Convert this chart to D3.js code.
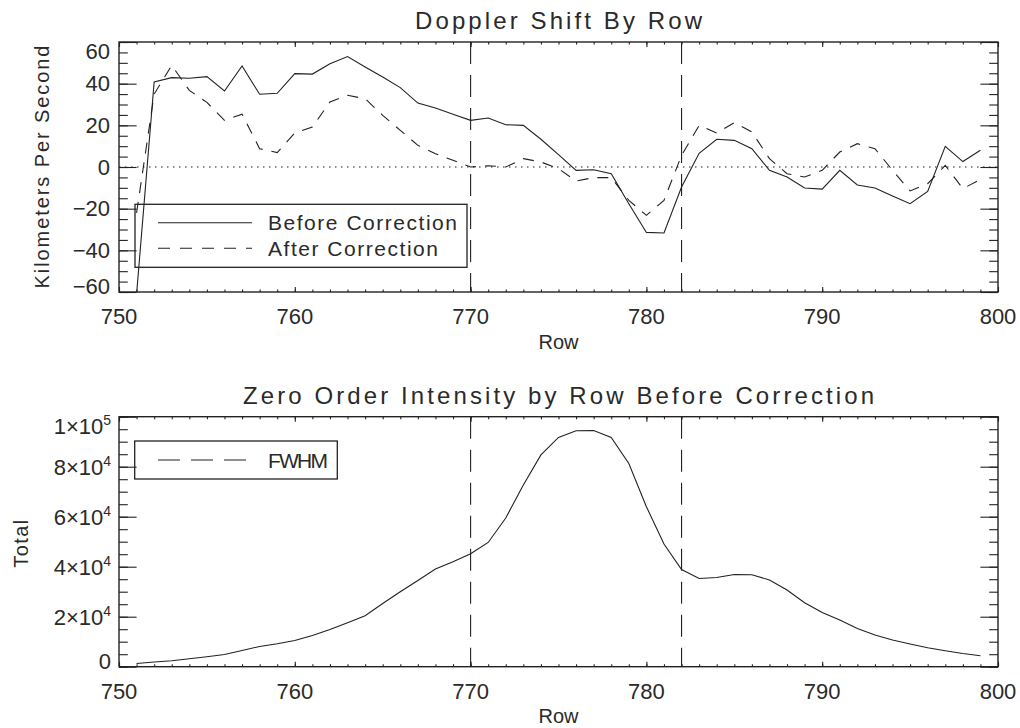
<!DOCTYPE html>
<html>
<head>
<meta charset="utf-8">
<script src="https://cdn.jsdelivr.net/npm/d3@7"></script>
<style>
  html, body { margin: 0; padding: 0; background: #fff; }
  svg { display: block; }
  text { font-family: "Liberation Sans", Arial, sans-serif; fill: #2a2a2a; }
</style>
</head>
<body>
<svg id="chart" width="1020" height="728"></svg>
<script>
// ---------------- data ----------------
const rows = [751,752,753,754,755,756,757,758,759,760,761,762,763,764,765,766,767,768,769,770,
              771,772,773,774,775,776,777,778,779,780,781,782,783,784,785,786,787,788,789,790,
              791,792,793,794,795,796,797,798,799];
const beforeCorrection = [-61,40.8,42.9,42.6,43.4,36.5,48.5,34.9,35.4,44.8,44.6,49.6,53.0,48.0,43.2,38.1,30.7,28.3,25.3,22.4,
              23.5,20.3,20.0,13.3,5.9,-1.6,-1.3,-3.2,-17.6,-31.4,-31.7,-9.6,6.6,13.3,12.8,8.8,-1.6,-4.8,-10.1,-10.6,
              -1.6,-8.6,-10.1,-13.9,-17.6,-11.7,9.9,2.6,8.0];
const afterCorrection = [-22,35,48.8,36.8,31,22.4,25.3,8.8,6.9,16.3,19.2,31.2,34.4,32.8,24.8,17.6,10.4,6.4,3.2,0,
              0.6,0,4,2.4,-0.8,-6.7,-5.1,-5.1,-16,-23.2,-16,5.6,20,16.3,21.3,16.8,4,-3.2,-4.8,-1.6,
              7.2,11.2,8.8,-1.6,-11.5,-8,0.8,-10.4,-6];
const intensity = [1300,1900,2400,3200,4000,4900,6500,8100,9200,10500,12500,14900,17600,20400,25300,30000,34500,39100,42000,45200,
              49700,59500,72700,84700,91700,94400,94500,91700,81300,64000,49100,38900,35300,35700,36900,36800,34700,30700,25600,21700,
              18700,15300,12700,10700,9100,7600,6400,5300,4400];
const fwhmRows = [770, 782];
const xTicks = [750,760,770,780,790,800];
const dopplerTicks = [-60,-40,-20,0,20,40,60];
const intensityTicks = [0,20000,40000,60000,80000,100000];
const intensityTickLabels = [["0",""],["2×10","4"],["4×10","4"],["6×10","4"],["8×10","4"],["1×10","5"]];
const legendTop = ["Before Correction", "After Correction"];
const legendBottom = ["FWHM"];
const titles = ["Doppler Shift By Row", "Zero Order Intensity by Row Before Correction"];

// ---------------- layout ----------------
const svg = d3.select("#chart");
const INK = "#222";
const L = 119, R = 998;
const P1 = {top: 42, bottom: 292};
const P2 = {top: 416.7, bottom: 666.7};

const x = d3.scaleLinear().domain([750, 800]).range([L, R]);
const y1 = d3.scaleLinear().domain([-60, 60]).range([P1.bottom, P1.top]);
const y2 = d3.scaleLinear().domain([0, 100000]).range([P2.bottom, P2.top]);

svg.append("rect").attr("width",1020).attr("height",728).attr("fill","#fff");

const defs = svg.append("defs");
[["clip1",P1],["clip2",P2]].forEach(([id,P]) => {
  defs.append("clipPath").attr("id", id).append("rect")
    .attr("x", L).attr("y", P.top).attr("width", R - L).attr("height", P.bottom - P.top);
});

function drawAxes(P, y, majorY, minorY) {
  const g = svg.append("g").attr("color", INK);
  const xMinor = d3.range(750, 801, 1);
  const axes = [
    [d3.axisBottom(x).tickValues(xMinor).tickSize(-2.5), `translate(0,${P.bottom})`],
    [d3.axisBottom(x).tickValues(xTicks).tickSize(-5), `translate(0,${P.bottom})`],
    [d3.axisTop(x).tickValues(xMinor).tickSize(-2.5), `translate(0,${P.top})`],
    [d3.axisTop(x).tickValues(xTicks).tickSize(-5), `translate(0,${P.top})`],
    [d3.axisLeft(y).tickValues(minorY).tickSize(-8.8), `translate(${L},0)`],
    [d3.axisLeft(y).tickValues(majorY).tickSize(-17.6), `translate(${L},0)`],
    [d3.axisRight(y).tickValues(minorY).tickSize(-8.8), `translate(${R},0)`],
    [d3.axisRight(y).tickValues(majorY).tickSize(-17.6), `translate(${R},0)`]
  ];
  axes.forEach(([ax, tr]) => {
    const a = g.append("g").attr("transform", tr).call(ax.tickFormat(""));
    a.select(".domain").remove();
    a.selectAll("line").attr("stroke-width", 1.1);
  });
  g.append("rect").attr("x", L).attr("y", P.top).attr("width", R - L).attr("height", P.bottom - P.top)
    .attr("fill", "none").attr("stroke", INK).attr("stroke-width", 1.4);
  g.selectAll("text.xl").data(xTicks).join("text")
    .attr("x", d => x(d)).attr("y", P.bottom + 32).attr("text-anchor", "middle")
    .attr("font-size", 22).text(d => d);
}

function yLabelPos(y, v, P) {
  let c = y(v);
  if (Math.abs(c - P.top) < 1) c += 9.5;
  if (Math.abs(c - P.bottom) < 1) c -= 5.5;
  return c + 7.8;
}

// ---------------- top panel ----------------
drawAxes(P1, y1, dopplerTicks, d3.range(-60, 61, 5));
svg.append("g").selectAll("text").data(dopplerTicks).join("text")
  .attr("x", 110).attr("y", d => yLabelPos(y1, d, P1)).attr("text-anchor", "end")
  .attr("font-size", 22).text(d => d < 0 ? "\u2212" + Math.abs(d) : d);

svg.append("text").attr("x", (L + R) / 2).attr("y", 29.3).attr("text-anchor", "middle")
  .attr("font-size", 24).attr("textLength", 287).attr("lengthAdjust", "spacing").text(titles[0]);
svg.append("text").attr("x", (L + R) / 2).attr("y", 349).attr("text-anchor", "middle")
  .attr("font-size", 20).text("Row");
svg.append("text").attr("transform", `translate(48.5,${y1(0)}) rotate(-90)`).attr("text-anchor", "middle")
  .attr("font-size", 20).attr("textLength", 243).attr("lengthAdjust", "spacing").text("Kilometers Per Second");

const plot1 = svg.append("g").attr("clip-path", "url(#clip1)");
plot1.append("line").attr("x1", L).attr("x2", R).attr("y1", y1(0)).attr("y2", y1(0))
  .attr("stroke", INK).attr("stroke-width", 1.1).attr("stroke-dasharray", "1.5,4.5");
fwhmRows.forEach(r => {
  plot1.append("line").attr("x1", x(r)).attr("x2", x(r)).attr("y1", P1.top).attr("y2", P1.bottom)
    .attr("stroke", INK).attr("stroke-width", 1.1).attr("stroke-dasharray", "22,11");
});
const line1 = d3.line().x((d, i) => x(rows[i])).y(d => y1(d));
plot1.append("path").datum(beforeCorrection).attr("d", line1)
  .attr("fill", "none").attr("stroke", INK).attr("stroke-width", 1.1);
plot1.append("path").datum(afterCorrection).attr("d", line1)
  .attr("fill", "none").attr("stroke", INK).attr("stroke-width", 1.1).attr("stroke-dasharray", "11,9");

const lg1 = svg.append("g");
lg1.append("rect").attr("x", 135).attr("y", 204.3).attr("width", 332).attr("height", 63)
  .attr("fill", "none").attr("stroke", INK).attr("stroke-width", 1.3);
[[222.7, null], [248.3, "12,10"]].forEach(([yy, dash], i) => {
  lg1.append("line").attr("x1", 158).attr("x2", 252).attr("y1", yy).attr("y2", yy)
    .attr("stroke", INK).attr("stroke-width", 1.1).attr("stroke-dasharray", dash);
  lg1.append("text").attr("x", 268).attr("y", yy + 7.5).attr("font-size", 21)
    .attr("textLength", i === 0 ? 189 : 170).attr("lengthAdjust", "spacing").text(legendTop[i]);
});

// ---------------- bottom panel ----------------
drawAxes(P2, y2, intensityTicks, d3.range(0, 100001, 5000));
const yl2 = svg.append("g").selectAll("text").data(intensityTicks).join("text")
  .attr("x", 111).attr("y", d => yLabelPos(y2, d, P2)).attr("text-anchor", "end")
  .attr("font-size", 22);
yl2.append("tspan").text((d, i) => intensityTickLabels[i][0]);
yl2.append("tspan").attr("dy", -9).attr("font-size", 14).text((d, i) => intensityTickLabels[i][1]);

svg.append("text").attr("x", (L + R) / 2).attr("y", 404).attr("text-anchor", "middle")
  .attr("font-size", 24).attr("textLength", 631).attr("lengthAdjust", "spacing").text(titles[1]);
svg.append("text").attr("x", (L + R) / 2).attr("y", 723).attr("text-anchor", "middle")
  .attr("font-size", 20).text("Row");
svg.append("text").attr("transform", `translate(28.3,${(P2.top + P2.bottom) / 2 + 2}) rotate(-90)`).attr("text-anchor", "middle")
  .attr("font-size", 20).attr("textLength", 48).attr("lengthAdjust", "spacing").text("Total");

const plot2 = svg.append("g").attr("clip-path", "url(#clip2)");
fwhmRows.forEach(r => {
  plot2.append("line").attr("x1", x(r)).attr("x2", x(r)).attr("y1", P2.top).attr("y2", P2.bottom)
    .attr("stroke", INK).attr("stroke-width", 1.1).attr("stroke-dasharray", "22,11");
});
const line2 = d3.line().x((d, i) => x(rows[i])).y(d => y2(d));
plot2.append("path").datum(intensity).attr("d", line2)
  .attr("fill", "none").attr("stroke", INK).attr("stroke-width", 1.1);

const lg2 = svg.append("g");
lg2.append("rect").attr("x", 134.7).attr("y", 441).attr("width", 202.6).attr("height", 38)
  .attr("fill", "none").attr("stroke", INK).attr("stroke-width", 1.3);
lg2.append("line").attr("x1", 158).attr("x2", 248).attr("y1", 460).attr("y2", 460)
  .attr("stroke", INK).attr("stroke-width", 1.1).attr("stroke-dasharray", "22,11");
lg2.append("text").attr("x", 268).attr("y", 467.5).attr("font-size", 21)
  .attr("textLength", 60).attr("lengthAdjust", "spacing").text(legendBottom[0]);
</script>
</body>
</html>
